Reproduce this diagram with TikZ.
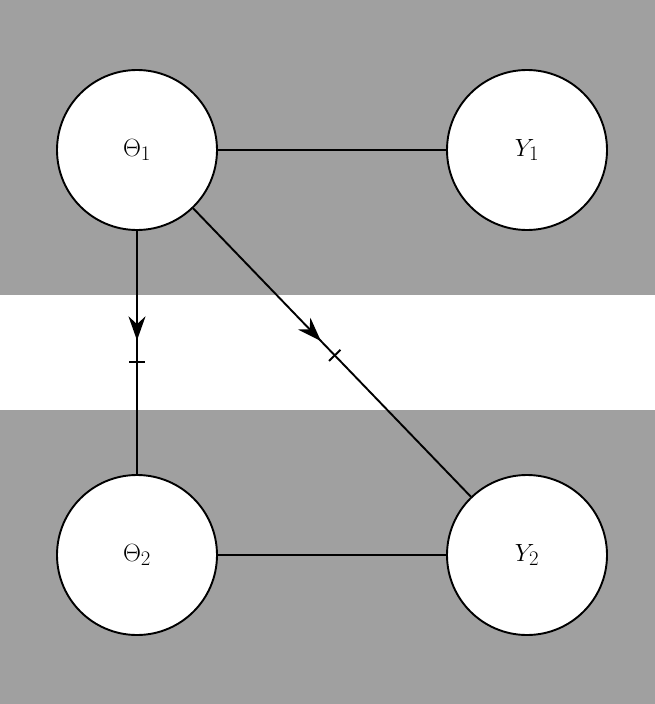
\documentclass[tikz,border=0pt]{standalone}
\usetikzlibrary{arrows.meta,decorations.markings}
\definecolor{plate}{RGB}{160,160,160}
\tikzset{
  every picture/.style={line width=1.9pt},
  var/.style={circle,draw,fill=white,minimum size=160pt,inner sep=0pt,font=\fontsize{30}{36}\selectfont},
  midarrow/.style 2 args={postaction={decorate},decoration={markings,
    mark=at position #1 with {\arrow{Stealth[length=24pt,width=17pt]}},
    mark=at position #2 with {\draw (0,-8pt) -- (0,8pt);}}}
}
\begin{document}
\begin{tikzpicture}[x=1pt,y=-1pt]
\useasboundingbox (0,0) rectangle (655,704);

% plates
\fill [plate] (0,0) rectangle (655,295);
\fill [plate] (0,410) rectangle (655,704);

% variables
\node [var] (theta1) at (137,150) {$\Theta_1$};
\node [var] (y1) at (527,150) {$Y_1$};
\node [var] (theta2) at (137,555) {$\Theta_2$};
\node [var] (y2) at (527,555) {$Y_2$};

% edges
\draw (theta1) -- (y1);
\draw (theta2) -- (y2);
\draw [midarrow={0.45}{0.54}] (theta1) -- (theta2);
\draw [midarrow={0.46}{0.51}] (theta1) -- (y2);

\end{tikzpicture}
\end{document}
